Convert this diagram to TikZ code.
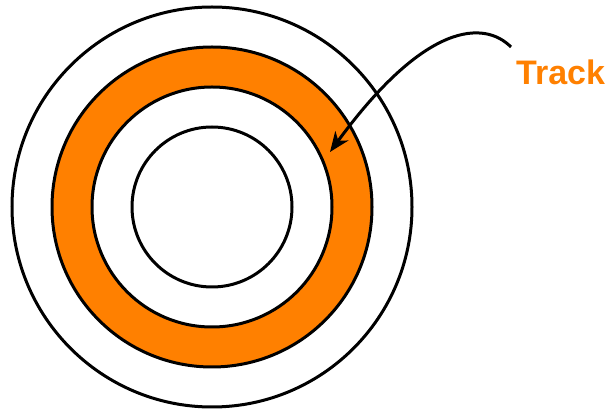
\documentclass[tikz,border=0pt]{standalone}
\usepackage{fontspec}
\setmainfont{Liberation Sans}
\usetikzlibrary{arrows.meta}
\definecolor{trackorange}{HTML}{FF8000}
\begin{document}
\begin{tikzpicture}[x=1pt,y=-1pt,
  ring/.style={circle,draw=black,line width=3pt,inner sep=0pt},
  pointer/.style={line width=3pt,-{Stealth[length=20pt,width=16pt,inset=6pt]}},
  label/.style={text=trackorange,font=\bfseries\fontsize{34}{34}\selectfont}]
\useasboundingbox (0,0) rectangle (611,411);
\node[ring,minimum size=400pt] (outer) at (212,207) {};
\node[ring,fill=trackorange,minimum size=320pt] (track) at (212,207) {};
\node[ring,fill=white,minimum size=240pt] (inner) at (212,207) {};
\node[ring,fill=white,minimum size=160pt] (core) at (212,207) {};
\node[label,anchor=base west,inner sep=0pt] (tracklabel) at (516,85) {Track};
\coordinate (start) at (511,47);
\coordinate (tip) at (330,152);
\draw[pointer] (start) .. controls (484,20) and (425,22) .. (tip);
\end{tikzpicture}
\end{document}
